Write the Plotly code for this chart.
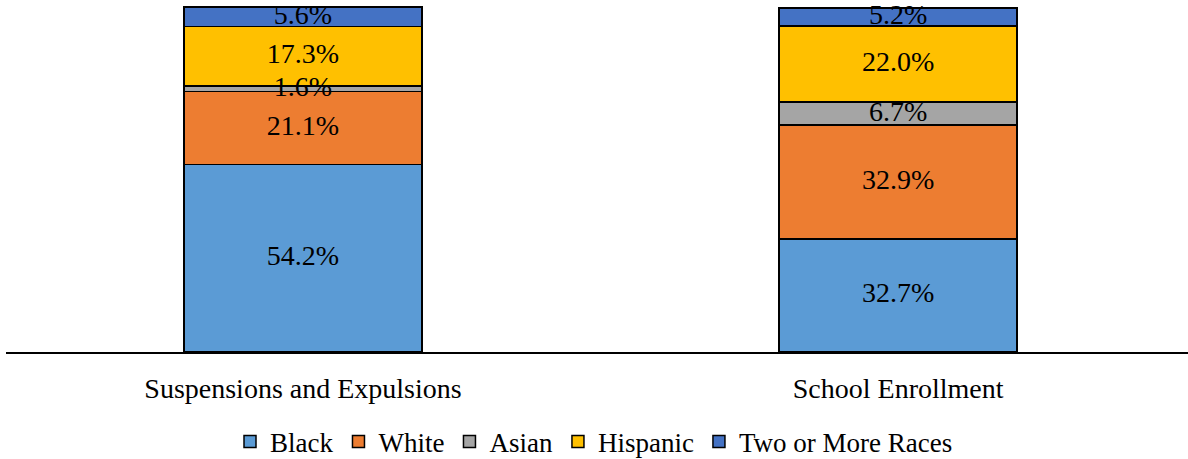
import plotly.graph_objects as go

categories = ["Suspensions and Expulsions", "School Enrollment"]
groups = ["Black", "White", "Asian", "Hispanic", "Two or More Races"]
black = [54.2, 32.7]
white = [21.1, 32.9]
asian = [1.6, 6.7]
hispanic = [17.3, 22.0]
two_or_more = [5.6, 5.2]

series = [black, white, asian, hispanic, two_or_more]
colors = ["#5B9BD5", "#ED7D31", "#A5A5A5", "#FFC000", "#4472C4"]

FONT = "'Liberation Serif', 'Times New Roman', Tinos, 'DejaVu Serif', serif"

fig = go.Figure()
for name, vals, col in zip(groups, series, colors):
    fig.add_trace(go.Bar(
        name=name,
        x=categories,
        y=vals,
        width=0.4,
        marker=dict(color=col, line=dict(color="#000000", width=1.5)),
    ))

# Value labels sit at the middle of each stacked segment, drawn above all bars
base = [0.0] * len(categories)
for vals in series:
    mids = [b + v / 2 for b, v in zip(base, vals)]
    fig.add_trace(go.Scatter(
        x=categories,
        y=mids,
        mode="text",
        text=[f"{v:.1f}%" for v in vals],
        textposition="middle center",
        textfont=dict(family=FONT, size=28, color="#000000"),
        showlegend=False,
        hoverinfo="skip",
        cliponaxis=False,
    ))
    base = [b + v for b, v in zip(base, vals)]

fig.update_layout(
    barmode="stack",
    width=1188,
    height=459,
    margin=dict(l=6, r=0, t=0, b=107, autoexpand=False),
    paper_bgcolor="white",
    plot_bgcolor="white",
    font=dict(family=FONT, color="#000000"),
    showlegend=True,
    legend=dict(
        orientation="h",
        x=0.5,
        xanchor="center",
        xref="container",
        y=0.037,
        yanchor="middle",
        yref="container",
        font=dict(family=FONT, size=27, color="#000000"),
        itemwidth=30,
        traceorder="normal",
    ),
    xaxis=dict(
        range=[-0.499, 1.487],
        showline=True,
        linecolor="#000000",
        linewidth=1.5,
        ticks="",
        ticklabelstandoff=11,
        tickfont=dict(family=FONT, size=28, color="#000000"),
        showgrid=False,
        zeroline=False,
    ),
    yaxis=dict(
        range=[0, 101.8],
        visible=False,
        showgrid=False,
        zeroline=False,
    ),
)

fig.write_html("out.html")
